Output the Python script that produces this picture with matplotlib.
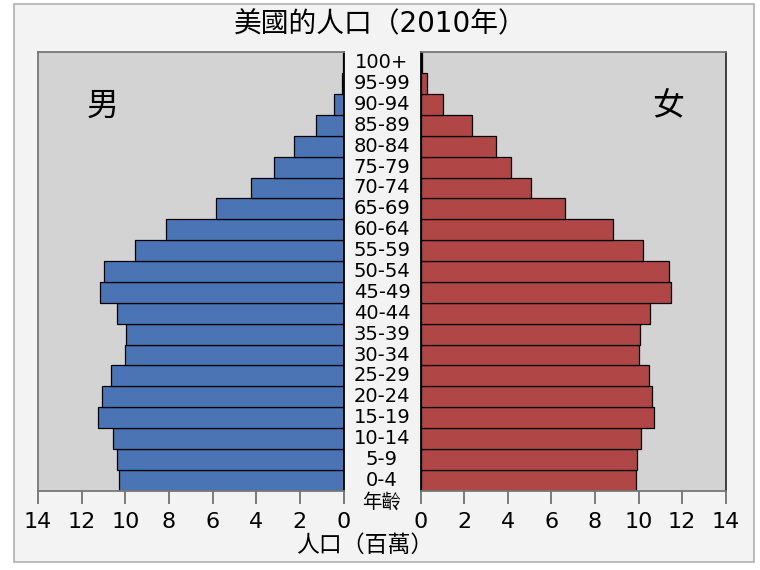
import numpy as np
import matplotlib
matplotlib.use('Agg')
import matplotlib.pyplot as plt
from matplotlib.patches import Rectangle

plt.rcParams['font.family'] = ['DejaVu Sans', 'Noto Sans CJK TC']

# age groups from youngest to oldest
ages = ['0-4', '5-9', '10-14', '15-19', '20-24', '25-29', '30-34', '35-39',
        '40-44', '45-49', '50-54', '55-59', '60-64', '65-69', '70-74',
        '75-79', '80-84', '85-89', '90-94', '95-99', '100+']
# population in millions
male = [10.31, 10.37, 10.58, 11.27, 11.05, 10.66, 10.03, 9.98,
        10.40, 11.16, 10.96, 9.57, 8.14, 5.86, 4.26,
        3.18, 2.29, 1.27, 0.43, 0.09, 0.02]
female = [9.87, 9.94, 10.10, 10.71, 10.63, 10.50, 10.02, 10.08,
          10.51, 11.47, 11.41, 10.22, 8.84, 6.62, 5.06,
          4.13, 3.46, 2.34, 1.03, 0.28, 0.05]
xticks = [0, 2, 4, 6, 8, 10, 12, 14]

W, H = 760, 570
fig = plt.figure(figsize=(7.6, 5.7), dpi=100, facecolor='white')
fig.patches.append(Rectangle((14 / W, 1 - 562 / H), 740 / W, 558 / H,
                             transform=fig.transFigure, facecolor='#f3f3f3',
                             edgecolor='#b0b0b0', linewidth=1.2, zorder=-10))

bottom = 1 - 490.7 / H
height = 438.4 / H
ax_l = fig.add_axes([38 / W, bottom, 305.5 / W, height])
ax_r = fig.add_axes([420.7 / W, bottom, 305 / W, height])

y = np.arange(len(ages))
ax_l.barh(y, male, height=1.0, color='#4a74b4', edgecolor='black', linewidth=0.9)
ax_r.barh(y, female, height=1.0, color='#b04646', edgecolor='black', linewidth=0.9)

for ax in (ax_l, ax_r):
    ax.set_facecolor('#d3d3d3')
    ax.set_xlim(0, 14)
    ax.set_ylim(-0.5, len(ages) - 0.5)
    ax.set_yticks([])
    ax.set_xticks(xticks)
    ax.tick_params(axis='x', direction='out', length=9, width=1.2,
                   color='#666666', labelsize=16, pad=6)
    for s in ax.spines.values():
        s.set_color('#777777')
        s.set_linewidth(1.3)
ax_l.invert_xaxis()
ax_l.spines['right'].set_color('black')
ax_r.spines['left'].set_color('black')
ax_r.spines['right'].set_color('#333333')

for i, a in enumerate(ages):
    ax_l.text(1.126, i, a, transform=ax_l.get_yaxis_transform(),
              ha='center', va='center', fontsize=14, clip_on=False)

ax_l.text(0.21, 0.877, '男', transform=ax_l.transAxes, ha='center', va='center',
          fontsize=23, family=['Noto Sans CJK TC', 'DejaVu Sans'])
ax_r.text(0.81, 0.877, '女', transform=ax_r.transAxes, ha='center', va='center',
          fontsize=23, family=['Noto Sans CJK TC', 'DejaVu Sans'])

fig.text(380 / W, 1 - 24 / H, '美國的人口（2010年）', ha='center', va='center',
         fontsize=20)
fig.text(382 / W, 1 - 502 / H, '年齡', ha='center', va='center',
         fontsize=14, family=['Noto Sans CJK TC', 'DejaVu Sans'])
fig.text(365 / W, 1 - 545 / H, '人口（百萬）', ha='center', va='center',
         fontsize=16.5, family=['Noto Sans CJK TC', 'DejaVu Sans'])

fig.savefig('out.png', dpi=100, facecolor=fig.get_facecolor())
